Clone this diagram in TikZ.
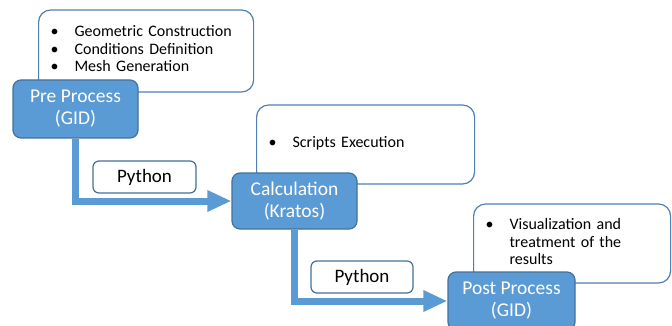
\documentclass[tikz,border=0pt]{standalone}
\usepackage{fontspec}
\setmainfont{Carlito}
\usetikzlibrary{arrows.meta}
\definecolor{azulCaja}{HTML}{5B9BD5}
\definecolor{azulBorde}{HTML}{41719C}
\definecolor{azulNota}{HTML}{4F7FB5}

\tikzset{
  etapa/.style={draw=azulBorde,fill=azulCaja,line width=1.2pt,rounded corners=8pt,
    text=white,align=center,font=\fontsize{19.5}{22}\selectfont},
  nota/.style={draw=azulNota,fill=white,line width=1.2pt,rounded corners=12pt,
    align=left,inner xsep=12pt,font=\fontsize{16}{17.5}\selectfont,anchor=west},
  lenguaje/.style={draw=azulBorde,fill=white,line width=1.2pt,rounded corners=6pt,
    minimum width=103pt,minimum height=32pt,font=\fontsize{19}{21}\selectfont},
  flecha/.style={azulCaja,line width=7pt,-{Triangle[length=24pt,width=20pt]}}
}

\begin{document}
\begin{tikzpicture}[x=1pt,y=-1pt]
  \useasboundingbox (0,0) rectangle (672,326);
  % notas
  \node[nota,minimum width=215pt,minimum height=82pt,text width=191pt] (notaPre) at (38,51)
    {\begin{tabular}{@{}l@{\hspace{16pt}}l@{}}
      \textbullet & Geometric Construction\\
      \textbullet & Conditions Definition\\
      \textbullet & Mesh Generation
     \end{tabular}};
  \node[nota,minimum width=218pt,minimum height=79pt,text width=194pt] (notaCalc) at (256,144.5)
    {\begin{tabular}{@{}l@{\hspace{16pt}}l@{}}
      \textbullet & Scripts Execution
     \end{tabular}};
  \node[nota,minimum width=197pt,minimum height=79pt,text width=173pt] (notaPost) at (473,243.5)
    {\begin{tabular}{@{}l@{\hspace{16pt}}l@{}}
      \textbullet & Visualization and\\
                  & treatment of the\\
                  & results
     \end{tabular}};
  % etapas
  \node[etapa,minimum width=125pt,minimum height=58pt] (pre) at (75.5,109) {Pre Process\\(GID)};
  \node[etapa,minimum width=125pt,minimum height=56pt] (calc) at (294.5,201) {Calculation\\(Kratos)};
  \node[etapa,minimum width=127pt,minimum height=58pt] (post) at (511.5,301) {Post Process\\(GID)};
  % flechas
  \draw[flecha] (pre.south) |- (calc.west);
  \draw[flecha] (calc.south) |- (post.west);
  \node[lenguaje] (py1) at (144.5,177) {Python};
  \node[lenguaje,minimum width=102pt] (py2) at (362,277) {Python};
\end{tikzpicture}
\end{document}
